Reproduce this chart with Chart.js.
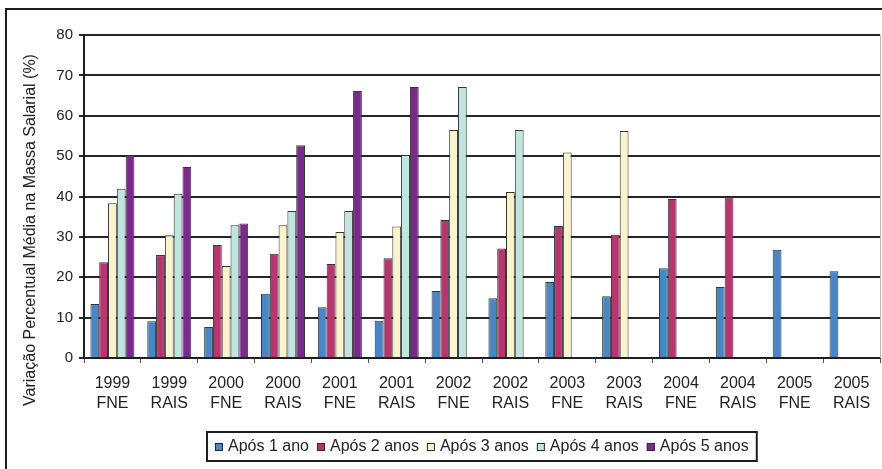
<!DOCTYPE html>
<html>
<head>
<meta charset="utf-8">
<script src="https://cdn.jsdelivr.net/npm/chart.js@4"></script>
<style>
  html, body { margin: 0; padding: 0; background: #ffffff; }
  #wrap { width: 882px; height: 469px; position: relative; }
</style>
</head>
<body>
<div id="wrap"><canvas id="chart" width="882" height="469"></canvas></div>
<script>
// Categories: year and data source
const years   = ['1999', '1999', '2000', '2000', '2001', '2001', '2002', '2002', '2003', '2003', '2004', '2004', '2005', '2005'];
const sources = ['FNE', 'RAIS', 'FNE', 'RAIS', 'FNE', 'RAIS', 'FNE', 'RAIS', 'FNE', 'RAIS', 'FNE', 'RAIS', 'FNE', 'RAIS'];

// Average percentage change in payroll, by years elapsed
const apos1 = [13.4, 9.1, 7.7, 15.9, 12.6, 9.2, 16.6, 14.8, 18.8, 15.3, 22.2, 17.6, 26.8, 21.5];
const apos2 = [23.7, 25.5, 28.0, 25.8, 23.3, 24.7, 34.2, 27.1, 32.7, 30.5, 39.4, 39.8, null, null];
const apos3 = [38.3, 30.4, 22.8, 32.9, 31.2, 32.6, 56.5, 41.1, 50.9, 56.2, null, null, null, null];
const apos4 = [41.9, 40.7, 32.9, 36.4, 36.4, 50.3, 67.1, 56.5, null, null, null, null, null, null];
const apos5 = [50.3, 47.3, 33.3, 52.7, 66.1, 67.1, null, null, null, null, null, null, null, null];

const seriesNames = ['Após 1 ano', 'Após 2 anos', 'Após 3 anos', 'Após 4 anos', 'Após 5 anos'];
const yTicks = [0, 10, 20, 30, 40, 50, 60, 70, 80];
const yTitle = 'Variação Percentual Média na Massa Salarial (%)';

const colors = ['#4a86c6', '#b63670', '#f9f4cc', '#c2e4df', '#7a2a8b'];
const FONT = '"Liberation Sans", Arial, sans-serif';

const labels = years.map((y, i) => [y, sources[i]]);
const seriesData = [apos1, apos2, apos3, apos4, apos5];

const datasets = seriesData.map((d, i) => ({
  label: seriesNames[i],
  data: d,
  backgroundColor: colors[i],
  borderColor: '#363636',
  borderWidth: 1,
  borderSkipped: 'bottom',
  categoryPercentage: 0.774,
  barPercentage: 1.0
}));

// Frame, plot border, rotated axis title and boxed legend
const decorations = {
  id: 'decorations',
  beforeDraw(chart) {
    const ctx = chart.ctx;
    ctx.save();
    ctx.fillStyle = '#ffffff';
    ctx.fillRect(0, 0, chart.width, chart.height);
    ctx.restore();
  },
  afterDraw(chart) {
    const ctx = chart.ctx;
    const area = chart.chartArea;
    ctx.save();

    // outer frame
    ctx.strokeStyle = '#1e1e1e';
    ctx.lineWidth = 2;
    ctx.strokeRect(6, 9, 920, 520);

    // right edge of plot area
    ctx.strokeStyle = '#b8b8b8';
    ctx.lineWidth = 1;
    ctx.beginPath();
    ctx.moveTo(area.right + 0.5, area.top);
    ctx.lineTo(area.right + 0.5, area.bottom);
    ctx.stroke();

    // y axis title
    ctx.save();
    ctx.translate(31, 230);
    ctx.rotate(-Math.PI / 2);
    ctx.font = '16px ' + FONT;
    ctx.fillStyle = '#222222';
    ctx.textAlign = 'center';
    ctx.textBaseline = 'middle';
    ctx.fillText(yTitle, 0, 0);
    ctx.restore();

    // legend
    ctx.font = '16px ' + FONT;
    const box = 8, gapText = 5, gapItem = 8, padX = 8;
    const items = chart.data.datasets.map(ds => ({
      label: ds.label, color: ds.backgroundColor, w: ctx.measureText(ds.label).width
    }));
    let contentW = 0;
    items.forEach((it, i) => { contentW += box + gapText + it.w + (i < items.length - 1 ? gapItem : 0); });
    const legW = contentW + padX * 2;
    const legH = 29;
    const cx = (area.left + area.right) / 2;
    const lx = Math.round(cx - legW / 2);
    const ly = 432;
    ctx.strokeStyle = '#1e1e1e';
    ctx.lineWidth = 2;
    ctx.strokeRect(lx, ly, legW, legH);
    const my = ly + legH / 2 + 0.5;
    let x = lx + padX;
    ctx.textAlign = 'left';
    ctx.textBaseline = 'middle';
    items.forEach(it => {
      ctx.fillStyle = it.color;
      ctx.fillRect(x, my - box / 2, box, box);
      ctx.strokeStyle = '#2a2a2a';
      ctx.lineWidth = 1;
      ctx.strokeRect(x + 0.5, my - box / 2 + 0.5, box - 1, box - 1);
      ctx.fillStyle = '#222222';
      ctx.fillText(it.label, x + box + gapText, my);
      x += box + gapText + it.w + gapItem;
    });
    ctx.restore();
  }
};

new Chart(document.getElementById('chart'), {
  type: 'bar',
  data: { labels, datasets },
  plugins: [decorations],
  options: {
    responsive: false,
    animation: false,
    devicePixelRatio: 1,
    layout: { padding: { top: 35, right: 2, bottom: 0, left: 0 } },
    plugins: {
      legend: { display: false },
      title: { display: false },
      tooltip: { enabled: false }
    },
    scales: {
      x: {
        grid: {
          offset: true,
          drawOnChartArea: false,
          drawTicks: true,
          tickLength: 5,
          color: '#555555',
          lineWidth: 1
        },
        border: { display: true, color: '#1e1e1e', width: 2 },
        ticks: {
          font: { family: FONT, size: 16, lineHeight: 1.25 },
          color: '#222222',
          padding: 11,
          maxRotation: 0,
          autoSkip: false
        },
        afterFit(scale) { scale.height = 111; }
      },
      y: {
        min: 0,
        max: 80,
        afterBuildTicks(scale) { scale.ticks = yTicks.map(v => ({ value: v })); },
        grid: {
          color: '#262626',
          lineWidth: 2,
          drawTicks: true,
          tickLength: 5
        },
        border: { display: true, color: '#1e1e1e', width: 2 },
        ticks: {
          font: { family: FONT, size: 15 },
          color: '#222222',
          padding: 6
        },
        title: { display: false },
        afterFit(scale) { scale.width = 84; }
      }
    }
  }
});
</script>
</body>
</html>
